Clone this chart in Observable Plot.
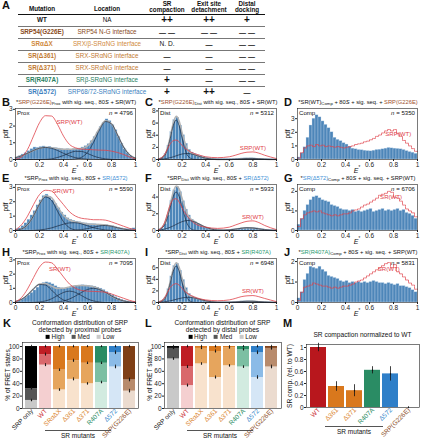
<!DOCTYPE html>
<html><head><meta charset="utf-8">
<script src="https://cdn.jsdelivr.net/npm/d3@7"></script>
<script src="https://cdn.jsdelivr.net/npm/@observablehq/plot@0.6"></script>
<style>
body{margin:0;background:#fff;}
#root{position:relative;width:421px;height:440px;overflow:hidden;font-family:"Liberation Sans",Arial,Helvetica,sans-serif;color:#111;}
.abs{position:absolute;white-space:nowrap;line-height:1;}
.lt{font-weight:bold;font-size:11px;}
.ttl{font-size:5.75px;}
.ttl sub{font-size:4.3px;vertical-align:-1.1px;}
.hdr{font-size:6.3px;font-weight:bold;text-align:center;line-height:1.05;}
sup{font-size:4.5px;}
</style></head><body><div id="root"></div>
<script>
// ---------------- DATA ----------------
// Panel A table
const mutations = ["WT","SRP54(G226E)","SRαΔX","SR(Δ361)","SR(Δ371)","SR(R407A)","SR(Δ572)"];
const locations = ["NA","SRP54 N-G interface","SRX/β-SRαNG interface","SRX-SRαNG interface","SRX-SRαNG interface","SRβ-SRαNG interface","SRP68/72-SRαNG interface"];
const srCompaction = ["++","— —","N. D.","—","—","+","+"];
const exitDetach = ["++","— —","—","—","—","—","++"];
const distalDock = ["+","— —","— —","— —","— —","— —","—"];
const mutColors = ["#111","#8a4b22","#d08a3c","#c27a30","#c27a30","#2a7f5f","#3d7fc0"];

// Histogram bins (40 bins over E* 0..1) and curve grids
const gridW = [0,0.05,0.1,0.15,0.2,0.25,0.3,0.35,0.4,0.45,0.5,0.55,0.6,0.65,0.7,0.75,0.8,0.85,0.9,0.95,1];
const gridN = [0,0.05,0.075,0.1,0.125,0.15,0.175,0.2,0.25,0.3,0.35,0.4,0.5,0.6,0.65,0.7,0.75,0.8,0.85,0.9,1];

const bHist = [0.12,0.2,0.3,0.38,0.5,0.62,0.72,0.7,0.75,0.78,0.72,0.76,0.7,0.68,0.66,0.62,0.6,0.62,0.58,0.62,0.64,0.66,0.72,0.8,0.92,1.1,1.35,1.62,1.95,2.2,2.4,2.3,2.05,1.75,1.35,0.95,0.62,0.38,0.2,0.1];
const bFit = [0.11,0.22,0.37,0.54,0.67,0.73,0.71,0.66,0.61,0.61,0.63,0.66,0.81,1.24,1.87,2.31,2.14,1.47,0.75,0.28,0.08];
const bComp1 = [0.11,0.22,0.37,0.54,0.67,0.72,0.67,0.54,0.37,0.22,0.11,0.05,0.02,0.01,0,0,0,0,0,0,0];
const bComp2 = [0,0,0,0,0,0.01,0.04,0.12,0.24,0.39,0.49,0.48,0.36,0.21,0.1,0.04,0.01,0,0,0,0];
const bComp3 = [0,0,0,0,0,0,0,0,0,0,0.03,0.13,0.43,1.02,1.77,2.27,2.13,1.47,0.75,0.28,0.08];
const bRef = [0.02,0.15,0.6,1.4,2.2,2.62,2.6,2.1,1.4,0.9,0.7,0.62,0.6,0.58,0.56,0.55,0.5,0.42,0.3,0.15,0.04];

const cHist = [0.05,0.25,0.9,2.3,4.5,6.5,6.9,5.6,4.0,2.6,1.6,1.15,0.9,0.7,0.55,0.4,0.28,0.2,0.15,0.12,0.12,0.1,0.1,0.1,0.12,0.12,0.15,0.15,0.18,0.2,0.18,0.2,0.18,0.15,0.12,0.1,0.08,0.06,0.05,0.04];
const cFit = [0.06,0.66,1.81,3.8,6.01,7.11,6.34,4.41,1.54,0.83,0.47,0.21,0.02,0.01,0.05,0.11,0.17,0.17,0.12,0.06,0];
const cComp1 = [0.03,0.55,1.62,3.5,5.57,6.5,5.57,3.5,0.55,0.03,0,0,0,0,0,0,0,0,0,0,0];
const cComp2 = [0.03,0.11,0.19,0.3,0.44,0.61,0.77,0.91,0.99,0.8,0.47,0.21,0.02,0,0,0,0,0,0,0,0];
const cComp3 = [0,0,0,0,0,0,0,0,0,0,0,0,0,0.01,0.05,0.11,0.17,0.17,0.12,0.06,0];
const cRef = [0.05,0.8,1.7,2.6,3.1,3.2,2.9,2.3,1.5,1.0,0.7,0.45,0.3,0.45,0.7,1.0,1.2,1.25,1.05,0.7,0.15];

const dHist = [0.15,0.45,0.9,1.6,2.5,3.0,3.25,3.1,2.8,2.55,2.3,2.0,1.6,1.45,1.35,1.2,1.1,0.95,0.8,0.75,0.7,0.68,0.65,0.62,0.6,0.65,0.7,0.72,0.75,0.8,0.85,0.82,0.8,0.78,0.75,0.7,0.62,0.55,0.5,0.42];
const dRef = [0.1,0.5,0.85,1.0,1.05,0.95,1.1,1.0,1.05,0.95,1.0,0.95,0.9,0.95,0.9,0.85,0.9,0.95,1.0,1.1,1.15,1.2,1.3,1.35,1.45,1.55,1.7,1.8,1.95,2.1,2.2,2.1,2.2,1.9,1.7,1.4,1.2,1.0,0.8,0.6];

const eHist = [0.08,0.15,0.3,0.5,0.75,1.05,1.35,1.75,2.1,2.4,2.5,2.35,2.1,1.85,1.55,1.25,1.05,0.85,0.75,0.68,0.62,0.58,0.52,0.5,0.46,0.45,0.44,0.42,0.4,0.4,0.38,0.33,0.3,0.24,0.2,0.15,0.12,0.1,0.12,0.15];
const eFit = [0.02,0.11,0.4,1.03,1.87,2.42,2.28,1.65,1.05,0.73,0.6,0.53,0.46,0.43,0.42,0.39,0.31,0.19,0.1,0.04,0.01];
const eComp1 = [0.02,0.11,0.4,1.02,1.83,2.33,2.1,1.34,0.61,0.19,0.04,0.01,0,0,0,0,0,0,0,0,0];
const eComp2 = [0,0,0,0.01,0.04,0.09,0.18,0.31,0.44,0.53,0.54,0.46,0.33,0.2,0.1,0.04,0.02,0,0,0,0];
const eComp3 = [0,0,0,0,0,0,0,0,0,0.01,0.02,0.06,0.13,0.23,0.32,0.35,0.29,0.19,0.1,0.04,0.01];
const eRef = [0.05,0.4,1.0,1.8,2.5,2.8,2.75,2.3,1.8,1.3,1.0,0.85,0.8,0.75,0.75,0.72,0.6,0.45,0.3,0.15,0.05];

const fHist = [0.02,0.2,0.75,1.8,3.5,4.8,5.2,4.6,3.5,2.5,1.8,1.3,1.0,0.8,0.6,0.45,0.35,0.25,0.18,0.14,0.1,0.08,0.07,0.08,0.1,0.14,0.18,0.22,0.28,0.32,0.34,0.32,0.3,0.26,0.2,0.15,0.1,0.07,0.04,0.03];
const fFit = [0.1,0.78,1.76,3.18,4.61,5.33,4.97,3.85,1.82,1.11,0.73,0.39,0.05,0.07,0.16,0.26,0.33,0.3,0.2,0.1,0.01];
const fComp1 = [0.05,0.62,1.5,2.79,4.06,4.6,4.06,2.79,0.62,0.05,0,0,0,0,0,0,0,0,0,0,0];
const fComp2 = [0.05,0.16,0.26,0.39,0.55,0.73,0.91,1.06,1.2,1.06,0.73,0.39,0.05,0,0,0,0,0,0,0,0];
const fComp3 = [0,0,0,0,0,0,0,0,0,0,0,0,0,0.07,0.16,0.26,0.33,0.3,0.2,0.1,0.01];
const fRef = [0.05,0.9,2.0,3.1,3.7,3.8,3.4,2.7,1.6,0.9,0.55,0.4,0.25,0.4,0.65,0.9,1.1,1.15,0.95,0.6,0.1];

const gHist = [0.3,0.6,1.0,1.3,1.55,1.7,1.75,1.65,1.55,1.5,1.45,1.3,1.25,1.2,1.1,1.05,1.05,1.0,1.05,0.95,1.0,0.95,1.0,1.05,1.1,0.95,1.0,1.05,1.1,1.0,1.05,1.0,1.05,1.1,1.0,1.05,0.9,0.85,0.75,0.6];
const gRef = [0.2,0.6,0.8,0.9,0.95,1.0,0.95,1.0,0.9,0.85,0.8,0.75,0.8,0.75,0.8,0.85,0.85,0.9,1.0,1.05,1.1,1.2,1.3,1.35,1.45,1.55,1.65,1.8,1.85,1.9,2.0,1.95,1.7,1.65,1.5,1.3,1.1,1.0,0.9,0.7];

const hHist = [0.06,0.12,0.22,0.35,0.5,0.68,0.85,1.05,1.25,1.38,1.42,1.38,1.28,1.15,1.05,1.0,0.98,1.0,1.05,1.12,1.15,1.2,1.22,1.2,1.18,1.15,1.12,1.05,0.98,0.88,0.75,0.62,0.5,0.38,0.28,0.2,0.13,0.08,0.05,0.04];
const hFit = [0.07,0.22,0.53,0.97,1.31,1.34,1.15,0.99,1.0,1.1,1.18,1.2,1.18,1.11,0.96,0.71,0.46,0.25,0.11,0.04,0.01];
const hComp1 = [0.07,0.22,0.53,0.96,1.27,1.23,0.88,0.46,0.18,0.05,0.01,0,0,0,0,0,0,0,0,0,0];
const hComp2 = [0,0,0,0.01,0.04,0.11,0.26,0.49,0.71,0.8,0.71,0.49,0.26,0.11,0.04,0,0,0,0,0,0];
const hComp3 = [0,0,0,0,0,0,0.01,0.04,0.11,0.25,0.46,0.71,0.92,1.0,0.92,0.71,0.46,0.25,0.11,0.04,0.01];
const hRef = [0.05,0.35,0.95,1.75,2.5,2.85,2.8,2.35,1.8,1.3,1.0,0.85,0.8,0.78,0.76,0.72,0.6,0.45,0.3,0.15,0.05];

const iHist = [0.03,0.25,0.85,2.3,4.5,6.3,6.7,5.5,3.9,2.5,1.5,1.05,0.85,0.65,0.5,0.36,0.26,0.18,0.12,0.08,0.06,0.05,0.05,0.06,0.08,0.1,0.13,0.16,0.19,0.21,0.22,0.21,0.19,0.16,0.13,0.1,0.07,0.05,0.03,0.02];
const iFit = [0.07,0.65,1.77,3.68,5.81,6.85,6.08,4.18,1.43,0.82,0.55,0.29,0.04,0.04,0.09,0.16,0.21,0.21,0.15,0.08,0.01];
const iComp1 = [0.03,0.53,1.57,3.39,5.4,6.3,5.4,3.39,0.53,0.03,0,0,0,0,0,0,0,0,0,0,0];
const iComp2 = [0.04,0.12,0.2,0.29,0.41,0.55,0.68,0.79,0.9,0.79,0.55,0.29,0.04,0,0,0,0,0,0,0,0];
const iComp3 = [0,0,0,0,0,0,0,0,0,0,0,0,0,0.04,0.09,0.16,0.21,0.21,0.15,0.08,0.01];
const iRef = [0.05,0.8,1.7,2.6,3.1,3.25,3.0,2.4,1.5,1.0,0.65,0.45,0.3,0.45,0.7,1.0,1.15,1.2,1.0,0.7,0.15];

const jHist = [0.2,0.5,1.1,1.4,1.75,1.7,1.65,1.75,1.6,1.5,1.3,1.25,1.2,1.15,1.05,1.0,1.05,0.95,1.0,0.95,1.0,0.95,1.0,0.95,1.0,1.05,1.0,0.95,0.95,0.9,0.95,0.9,0.85,0.9,0.8,0.8,0.75,0.7,0.6,0.5];
const jRef = [0.1,0.5,0.75,0.8,0.85,0.95,0.9,0.85,0.8,0.8,0.75,0.7,0.75,0.7,0.75,0.8,0.8,0.85,0.9,1.0,1.05,1.1,1.2,1.3,1.4,1.5,1.6,1.7,1.8,1.9,1.95,1.7,1.85,1.5,1.4,1.25,1.1,0.95,0.85,0.65];

// Panels K, L (stacked %), M
const kCats = ["SRP only","WT","SRαΔX","Δ361","Δ371","R407A","Δ572","SRP(G226E)"];
const kLow  = [13,70,30,47,40,42,67,28];
const kMed  = [19,17,32,30,33,31,23,18];
const kHigh = [68,13,38,23,27,27,10,54];
const lLow  = [80,37,72,50,69,67,50,67];
const lMed  = [17,30,25,42,29,28,40,30];
const lHigh = [3,33,3,8,2,5,10,3];
const errLow = [2,2.5,2,2.5,2,2,3,3];
const errMed = [2,2.5,2,2.5,2,2,3,3];
const errTop = [2,2,2,2,1.5,1.5,2,2];
const lowCol  = ["#c9c9c9","#f4cfd0","#f8e2cd","#f8e2cd","#f8e2cd","#d2ebe0","#d5e6f6","#ebdbcf"];
const medCol  = ["#555555","#d9686c","#e6a55d","#e6a55d","#e6a55d","#7cbfa3","#8bbbe7","#b88b6c"];
const highCol = ["#000000","#bf1e24","#d9781d","#d9781d","#d9781d","#2a8c64","#2f7fc8","#7f3f16"];
const labCol  = ["#111","#c8242a","#d9801f","#d9801f","#d9801f","#2a8c64","#2f7fc8","#8a4b22"];

const mCats = ["WT","Δ361","Δ371","R407A","Δ572","SRP(G226E)"];
const mVal = [1.0,0.35,0.28,0.62,0.56,0.0];
const mErr = [0.07,0.08,0.1,0.06,0.12,0.012];
const mCol = ["#b8171d","#d9781d","#d9781d","#2a8c64","#2f7fc8","#7f3f16"];
const mLab = ["#c8242a","#d9801f","#d9801f","#2a8c64","#2f7fc8","#8a4b22"];

// ---------------- HELPERS ----------------
const root = document.getElementById("root");
const FONT = '"Liberation Sans",Arial,Helvetica,sans-serif';
function put(html, x, y, css = "", ax = 0.5, ay = 0.5, rot = 0) {
  const d = document.createElement("div");
  d.className = "abs";
  d.innerHTML = html;
  d.style.cssText = `left:${x}px;top:${y}px;transform:translate(${-ax*100}%,${-ay*100}%)${rot ? ` rotate(${rot}deg)` : ""};` + css;
  root.appendChild(d);
  return d;
}
function placeNode(node, x, y) {
  const d = document.createElement("div");
  d.className = "abs";
  d.style.left = x + "px"; d.style.top = y + "px";
  d.appendChild(node);
  root.appendChild(d);
}
function hline(x1, x2, y, w, col) {
  const d = document.createElement("div");
  d.className = "abs";
  d.style.cssText = `left:${x1}px;top:${y - w/2}px;width:${x2-x1}px;height:${w}px;background:${col};`;
  root.appendChild(d);
}
const BROWN = "#a0522d", BLUE = "#3d8fd6", GREEN = "#2a9a70", RED = "#e0424a";
const fmt = d => String(+d.toFixed(2));

// ---------------- PANEL A ----------------
put("A", 2, 5, "", 0, 0.5).className = "abs lt";
const colX = [42, 107, 167, 209, 247];
put("Mutation", colX[0], 8.5, "", 0.5, 0.5).className = "abs hdr";
put("Location", colX[1], 8.5, "", 0.5, 0.5).className = "abs hdr";
put("SR<br>compaction", colX[2], 7.5, "", 0.5, 0.5).className = "abs hdr";
put("Exit site<br>detachment", colX[3], 7.5, "", 0.5, 0.5).className = "abs hdr";
put("Distal<br>docking", colX[4], 7.5, "", 0.5, 0.5).className = "abs hdr";
hline(18, 265, 14.5, 1.3, "#111");
mutations.forEach((m, i) => {
  const y = 20 + 12 * i;
  put(m, colX[0], y, `color:${mutColors[i]};font-weight:bold;font-size:6.3px;`);
  put(locations[i], colX[1], y, `color:${mutColors[i]};font-size:6.3px;`);
  [srCompaction[i], exitDetach[i], distalDock[i]].forEach((s, k) => {
    const isND = s.startsWith("N");
    const isPlus = s.startsWith("+");
    put(s, colX[2 + k], y, isND ? "font-size:6.6px;color:#111;" : (isPlus ? "font-size:10px;font-weight:bold;color:#111;" : "font-size:7px;font-weight:bold;color:#111;"));
  });
  if (i < mutations.length - 1) hline(18, 265, y + 6, 0.8, "#777");
});

// ---------------- HISTOGRAM PANELS ----------------
const panels = [
  {id:"B", L:15, T:108, W:120, H:51, yMax:3.05, yt:[0,1,2,3], hist:bHist, grid:gridW, fit:bFit, comps:[bComp1,bComp2,bComp3], ref:bRef, refLab:"SRP(WT)", lx:0.45, ly:2.25, tag:"Prox", n:4796,
   title:`*<span style="color:${BROWN}">SRP(G226E)</span><sub>Prox</sub> with sig. seq., 80<i>S</i> + SR(WT)`},
  {id:"C", L:158, T:108, W:118, H:51, yMax:8.4, yt:[0,2,4,6,8], hist:cHist, grid:gridN, fit:cFit, comps:[cComp1,cComp2,cComp3], ref:cRef, refLab:"SRP(WT)", lx:0.8, ly:1.9, tag:"Dist", n:5312,
   title:`*<span style="color:${BROWN}">SRP(G226E)</span><sub>Dist</sub> with sig. seq., 80<i>S</i> + SR(WT)`},
  {id:"D", L:297, T:108, W:120, H:51, yMax:3.75, yt:[0,1,2,3], hist:dHist, step:dRef, refLab:"SRP(WT)", lx:0.84, ly:1.85, tag:"Comp", n:5350,
   title:`*SR(WT)<sub>Comp</sub> + 80<i>S</i> + sig. seq. + <span style="color:${BROWN}">SRP(G226E)</span>`},
  {id:"E", L:15, T:184, W:120, H:46, yMax:3.2, yt:[0,1,2,3], hist:eHist, grid:gridW, fit:eFit, comps:[eComp1,eComp2,eComp3], ref:eRef, refLab:"SR(WT)", lx:0.4, ly:2.75, tag:"Prox", n:5590,
   title:`*SRP<sub>Prox</sub> with sig. seq., 80<i>S</i> + <span style="color:${BLUE}">SR(Δ572)</span>`},
  {id:"F", L:158, T:184, W:118, H:46, yMax:5.5, yt:[0,2,4], hist:fHist, grid:gridN, fit:fFit, comps:[fComp1,fComp2,fComp3], ref:fRef, refLab:"SR(WT)", lx:0.8, ly:1.55, tag:"Dist", n:5933,
   title:`*SRP<sub>Dist</sub> with sig. seq., 80<i>S</i> + <span style="color:${BLUE}">SR(Δ572)</span>`},
  {id:"G", L:297, T:184, W:120, H:46, yMax:2.35, yt:[0,1,2], hist:gHist, step:gRef, refLab:"SR(WT)", lx:0.78, ly:1.72, tag:"Comp", n:6706,
   title:`*<span style="color:${BLUE}">SR(Δ572)</span><sub>Comp</sub> + 80<i>S</i> + sig. seq. + SRP(WT)`},
  {id:"H", L:15, T:258, W:120, H:44, yMax:3.1, yt:[0,1,2,3], hist:hHist, grid:gridW, fit:hFit, comps:[hComp1,hComp2,hComp3], ref:hRef, refLab:"SR(WT)", lx:0.37, ly:2.35, tag:"Prox", n:7095,
   title:`*SRP<sub>Prox</sub> with sig. seq., 80<i>S</i> + <span style="color:${GREEN}">SR(R407A)</span>`},
  {id:"I", L:158, T:258, W:118, H:44, yMax:7.6, yt:[0,2,4,6], hist:iHist, grid:gridN, fit:iFit, comps:[iComp1,iComp2,iComp3], ref:iRef, refLab:"SR(WT)", lx:0.8, ly:1.9, tag:"Dist", n:6948,
   title:`*SRP<sub>Dist</sub> with sig. seq., 80<i>S</i> + <span style="color:${GREEN}">SR(R407A)</span>`},
  {id:"J", L:297, T:258, W:120, H:44, yMax:2.15, yt:[0,1,2], hist:jHist, step:jRef, refLab:"SR(WT)", lx:0.76, ly:1.65, tag:"Comp", n:5831,
   title:`*<span style="color:${GREEN}">SR(R407A)</span><sub>Comp</sub> + 80<i>S</i> + sig. seq. + SRP(WT)`}
];

const edges = d3.range(41).map(i => i / 40);
const mL = 10, mR = 4, mT = 2, mB = 10;
for (const p of panels) {
  const bins = p.hist.map((v, i) => ({x1: edges[i], x2: edges[i + 1], y: v}));
  const marks = [
    Plot.rectY(bins, {x1: "x1", x2: "x2", y1: 0, y2: "y", fill: "#4d86b9", stroke: "#c9dcee", strokeWidth: 0.35})
  ];
  if (p.fit) {
    marks.push(Plot.line(p.grid.map((x, i) => ({x, y: p.fit[i]})), {x: "x", y: "y", stroke: "#b3b3b3", strokeWidth: 1.5, curve: "monotone-x"}));
    for (const c of p.comps) marks.push(Plot.line(p.grid.map((x, i) => ({x, y: c[i]})), {x: "x", y: "y", stroke: "#1b2a40", strokeWidth: 0.7, curve: "monotone-x"}));
    marks.push(Plot.line(p.grid.map((x, i) => ({x, y: p.ref[i]})), {x: "x", y: "y", stroke: RED, strokeWidth: 0.8, curve: "monotone-x"}));
  }
  if (p.step) {
    const pts = p.step.map((v, i) => ({x: edges[i], y: v}));
    pts.push({x: 1, y: p.step[p.step.length - 1]});
    marks.push(Plot.line(pts, {x: "x", y: "y", stroke: RED, strokeWidth: 0.7, strokeDasharray: "1.6,0.9", curve: "step-after"}));
  }
  marks.push(Plot.text([p.refLab], {x: () => p.lx, y: () => p.ly, fill: RED, fontSize: 6.1}));
  marks.push(Plot.axisX({ticks: [0, 0.2, 0.4, 0.6, 0.8, 1], tickFormat: fmt, tickSize: 2, tickPadding: 1, label: null, fontSize: 6.5}));
  marks.push(Plot.axisY({ticks: p.yt, tickFormat: fmt, tickSize: 2, tickPadding: 1, label: null, fontSize: 6.5}));
  marks.push(Plot.frame({stroke: "#222", strokeWidth: 0.6}));
  const svg = Plot.plot({
    width: p.W + mL + mR, height: p.H + mT + mB,
    marginLeft: mL, marginRight: mR, marginTop: mT, marginBottom: mB,
    x: {domain: [0, 1]}, y: {domain: [0, p.yMax]},
    style: {fontFamily: FONT, fontSize: "6.5px", background: "transparent", overflow: "visible", color: "#222"},
    marks
  });
  placeNode(svg, p.L - mL, p.T - mT);
  put(p.id, p.L - 13, p.T - 6, "", 0, 0.5).className = "abs lt";
  put(p.title, p.L + p.W / 2 + 1, p.T - 5, "", 0.5, 0.5).className = "abs ttl";
  put(p.tag, p.L + 2, p.T + 1.5, "font-size:6.1px;", 0, 0);
  put(`<i>n</i> = ${p.n}`, p.L + p.W - 2, p.T + 1.5, "font-size:6.1px;", 1, 0);
  put("pdf", p.L - 9, p.T + p.H / 2, "font-size:6.5px;", 0.5, 0.5, -90);
  put("<i>E</i><sup>*</sup>", p.L + p.W / 2, p.T + p.H + 11, "font-size:7px;", 0.5, 0.5);
}

// ---------------- PANELS K, L ----------------
function stackedPanel(letter, L, T, W, H, low, med, high, titleLines) {
  const rows = [], errs = [];
  kCats.forEach((c, i) => {
    const b1 = low[i], b2 = low[i] + med[i], b3 = low[i] + med[i] + high[i];
    rows.push({c, y1: 0, y2: b1, f: lowCol[i]}, {c, y1: b1, y2: b2, f: medCol[i]}, {c, y1: b2, y2: b3, f: highCol[i]});
    errs.push({c, y: b1, e: errLow[i]}, {c, y: b2, e: errMed[i]}, {c, y: b3, e: errTop[i]});
  });
  const ml = 14, mr = 2, mt = 2, mb = 26;
  const svg = Plot.plot({
    width: W + ml + mr, height: H + mt + mb, marginLeft: ml, marginRight: mr, marginTop: mt, marginBottom: mb,
    x: {domain: kCats, padding: 0.14, axis: null},
    y: {domain: [0, 106.5], ticks: [0, 20, 40, 60, 80, 100], tickFormat: fmt, tickSize: 2, tickPadding: 1, label: null},
    color: {type: "identity"},
    style: {fontFamily: FONT, fontSize: "6.5px", background: "transparent", overflow: "visible", color: "#222"},
    marks: [
      Plot.barY(rows, {x: "c", y1: "y1", y2: "y2", fill: "f"}),
      Plot.ruleX(errs, {x: "c", y1: d => d.y - d.e, y2: d => d.y + d.e, stroke: "#111", strokeWidth: 0.8}),
      Plot.dot(errs, {x: "c", y: "y", r: 0.7, fill: "#111"}),
      Plot.text(kCats, {x: d => d, frameAnchor: "bottom", dy: 3, dx: 2, rotate: -45, textAnchor: "end", fill: (d, i) => labCol[i], fontSize: 6.5}),
      Plot.frame({stroke: "#222", strokeWidth: 0.6})
    ]
  });
  placeNode(svg, L - ml, T - mt);
  put(letter, L - 19, T - 19, "", 0, 0.5).className = "abs lt";
  put(titleLines, L + W / 2, T - 16, "font-size:6.6px;text-align:center;line-height:1.1;", 0.5, 0.5);
  const lg = (c) => `<span style="display:inline-block;width:4px;height:4px;background:${c};margin-right:2px;vertical-align:0.5px"></span>`;
  put(`${lg("#000")}High&nbsp;&nbsp;&nbsp;&nbsp;${lg("#555")}Med&nbsp;&nbsp;&nbsp;&nbsp;${lg("#c9c9c9")}Low`, L + W / 2, T - 5, "font-size:6.3px;", 0.5, 0.5);
  put("% of FRET states", L - 14, T + H / 2, "font-size:6.6px;", 0.5, 0.5, -90);
}
stackedPanel("K", 22, 342, 116, 66, kLow, kMed, kHigh, "Conformation distribution of SRP<br>detected by proximal probes");
stackedPanel("L", 164, 342, 117, 66, lLow, lMed, lHigh, "Conformation distribution of SRP<br>detected by distal probes");
hline(45, 111, 430, 0.9, "#555");
put("SR mutants", 78, 436, "font-size:6.5px;");
hline(187, 253, 430, 0.9, "#555");
put("SR mutants", 220, 436, "font-size:6.5px;");

// ---------------- PANEL M ----------------
{
  const L = 306, T = 344, W = 113, H = 63;
  const ml = 16, mr = 2, mt = 2, mb = 26;
  const data = mCats.map((c, i) => ({c, v: mVal[i], e: mErr[i], f: mCol[i]}));
  const svg = Plot.plot({
    width: W + ml + mr, height: H + mt + mb, marginLeft: ml, marginRight: mr, marginTop: mt, marginBottom: mb,
    x: {domain: mCats, padding: 0.12, axis: null},
    y: {domain: [0, 1.05], ticks: [0, 0.2, 0.4, 0.6, 0.8, 1], tickFormat: fmt, tickSize: 2, tickPadding: 1, label: null},
    color: {type: "identity"},
    style: {fontFamily: FONT, fontSize: "6.5px", background: "transparent", overflow: "visible", color: "#222"},
    marks: [
      Plot.barY(data, {x: "c", y: "v", fill: "f"}),
      Plot.ruleX(data, {x: "c", y1: d => d.v - d.e, y2: d => d.v + d.e, stroke: "#111", strokeWidth: 0.8}),
      Plot.dot(data, {x: "c", y: "v", r: 0.7, fill: "#111"}),
      Plot.text(mCats, {x: d => d, frameAnchor: "bottom", dy: 3, dx: 2, rotate: -45, textAnchor: "end", fill: (d, i) => mLab[i], fontSize: 6.5}),
      Plot.frame({stroke: "#222", strokeWidth: 0.6})
    ]
  });
  placeNode(svg, L - ml, T - mt);
  put("M", 283, 323, "", 0, 0.5).className = "abs lt";
  put("SR compaction normalized to WT", L + W / 2, 335, "font-size:6.6px;", 0.5, 0.5);
  put("SR comp. (rel. to WT)", L - 16, T + H / 2, "font-size:6.6px;", 0.5, 0.5, -90);
  hline(325, 383, 426, 0.9, "#555");
  put("SR mutants", 354, 432, "font-size:6.5px;");
}
</script></body></html>
